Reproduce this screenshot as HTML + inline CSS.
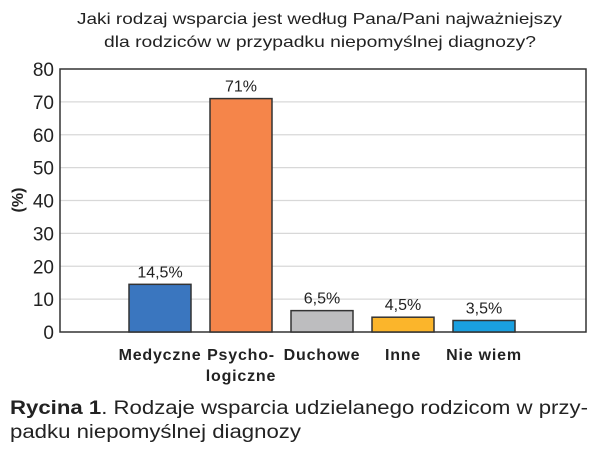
<!DOCTYPE html>
<html><head><meta charset="utf-8"><style>
body{margin:0;background:#fff;}
svg{display:block;font-family:"Liberation Sans","DejaVu Sans",sans-serif;}
</style></head><body>
<svg id="c" width="600" height="454" viewBox="0 0 600 454">
<text x="77" y="24" font-size="16" fill="#222" textLength="485" lengthAdjust="spacingAndGlyphs">Jaki rodzaj wsparcia jest według Pana/Pani najważniejszy</text>
<text x="104" y="47" font-size="16" fill="#222" textLength="432" lengthAdjust="spacingAndGlyphs">dla rodziców w przypadku niepomyślnej diagnozy?</text>
<text transform="translate(23,200) rotate(-90)" text-anchor="middle" font-size="16" font-weight="bold" fill="#222">(%)</text>
<g id="grid"></g><g id="bars"></g><g id="labels"></g>
<text x="10" y="414" font-size="19" fill="#222" textLength="578" lengthAdjust="spacingAndGlyphs"><tspan font-weight="bold">Rycina 1</tspan>. Rodzaje wsparcia udzielanego rodzicom w przy-</text>
<text x="10" y="438" font-size="19" fill="#222" textLength="291" lengthAdjust="spacingAndGlyphs">padku niepomyślnej diagnozy</text>
</svg>
<script>
const categories=[["Medyczne"],["Psycho-","logiczne"],["Duchowe"],["Inne"],["Nie wiem"]];
const values=[14.5,71,6.5,4.5,3.5];
const valueLabels=["14,5%","71%","6,5%","4,5%","3,5%"];
const colors=["#3a76bf","#f5854a","#bdbdbf","#fbb52b","#1aa0e0"];
const yTicks=[0,10,20,30,40,50,60,70,80];
const NS="http://www.w3.org/2000/svg";
const L=60,R=586,T=69,B=332,ymax=80;
const y=v=>B-(v/ymax)*(B-T);
const xc=i=>160+i*81;
const BW=62;
function mk(t,a,p){const e=document.createElementNS(NS,t);for(const k in a)e.setAttribute(k,a[k]);p.appendChild(e);return e;}
const g=document.getElementById('grid'),bg=document.getElementById('bars'),lg=document.getElementById('labels');
yTicks.forEach(v=>{
 if(v>0&&v<ymax){const l=mk('line',{x1:L,x2:R,y1:y(v),y2:y(v),stroke:'#d8d8d8','stroke-width':1.3},g);
 
 }
 const t=mk('text',{x:L-6,y:y(v)+7,'text-anchor':'end','font-size':19,fill:'#222'},g);t.textContent=v;
 
 
});
const fr=mk('rect',{x:L,y:T,width:R-L,height:B-T,fill:'none',stroke:'#333','stroke-width':1.5},g);


values.forEach((v,i)=>{
 const r=mk('rect',{x:xc(i)-BW/2,y:y(v),width:BW,height:B-y(v),fill:colors[i],stroke:'#333','stroke-width':1.5},bg);
 
 
 const t=mk('text',{x:xc(i),y:y(v)-7,'text-anchor':'middle','font-size':16,fill:'#222'},lg);t.textContent=valueLabels[i];
 
 
 categories[i].forEach((s,j)=>{
  const c=mk('text',{x:xc(i),y:360+j*21,'text-anchor':'middle','font-size':16,'font-weight':'bold','letter-spacing':'0.8',fill:'#222'},lg);c.textContent=s;
  
  
 });
});
</script>
</body></html>
